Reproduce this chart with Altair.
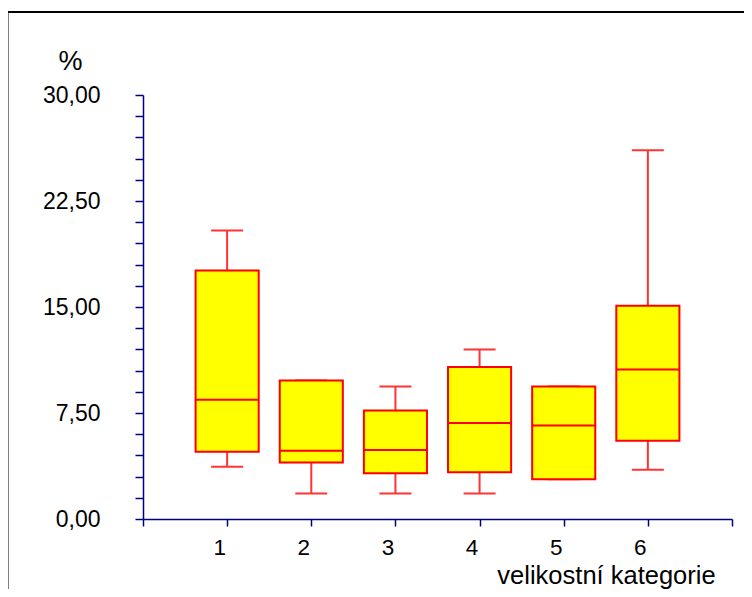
import altair as alt
import pandas as pd

# Data
categories = [1, 2, 3, 4, 5, 6]
whisker_low = [3.70, 1.81, 1.81, 1.81, 2.81, 3.49]
q1 = [4.76, 4.00, 3.23, 3.30, 2.81, 5.54]
median = [8.44, 4.83, 4.88, 6.79, 6.62, 10.58]
q3 = [17.58, 9.80, 7.68, 10.75, 9.38, 15.08]
whisker_high = [20.41, 9.80, 9.38, 11.99, 9.38, 26.09]

y_ticks = [0, 1.5, 3, 4.5, 6, 7.5, 9, 10.5, 12, 13.5, 15,
           16.5, 18, 19.5, 21, 22.5, 24, 25.5, 27, 28.5, 30]
y_labelled = [0, 7.5, 15, 22.5, 30]
x_ticks = [0, 1, 2, 3, 4, 5, 6, 7]
x_labelled = [1, 2, 3, 4, 5, 6]

df = pd.DataFrame({
    "cat": categories,
    "lo": whisker_low,
    "q1": q1,
    "med": median,
    "q3": q3,
    "hi": whisker_high,
})

FONT = "Liberation Sans"
AXIS_COLOR = "#000080"
RED = "#ff0000"
WHISKER = "#ff3333"
BOX_HALF = 0.375
CAP_HALF = 0.19

x_scale = alt.Scale(domain=[0, 7], nice=False, zero=False)
y_scale = alt.Scale(domain=[0, 30], nice=False, zero=False)

x_expr = "indexof(%s, datum.value) >= 0 ? format(datum.value, 'd') : ''" % str(x_labelled)
y_expr = ("indexof(%s, datum.value) >= 0 ? replace(format(datum.value, '.2f'), '.', ',') : ''"
          % str(y_labelled))

x_axis = alt.Axis(
    values=x_ticks,
    tickCount=len(x_ticks) + 5,
    labelExpr=x_expr,
    labelOverlap=False,
    title="velikostní kategorie",
    titleFont=FONT, titleFontSize=25.5, titleFontWeight="normal", titleColor="black",
    titleAnchor="start", titleAlign="center", titleBaseline="alphabetic",
    titleX=463, titleY=64,
    labelFont=FONT, labelFontSize=22.5, labelColor="black",
    labelBaseline="alphabetic", labelPadding=28, labelOffset=-8,
    tickSize=7, tickColor=AXIS_COLOR, tickWidth=1.5,
    domainColor=AXIS_COLOR, domainWidth=1.5, grid=False,
)

y_axis = alt.Axis(
    values=y_ticks,
    tickCount=len(y_ticks) + 5,
    labelExpr=y_expr,
    labelOverlap=False,
    title="%",
    titleFont=FONT, titleFontSize=27, titleFontWeight="normal", titleColor="black",
    titleAngle=0, titleAlign="center", titleBaseline="alphabetic",
    titleX=-73, titleY=-26,
    labelFont=FONT, labelFontSize=23, labelColor="black",
    labelAlign="right", labelBaseline="middle", labelPadding=35,
    tickSize=8, tickColor=AXIS_COLOR, tickWidth=1.5,
    domainColor=AXIS_COLOR, domainWidth=1.5, grid=False,
)

base = alt.Chart(df).transform_calculate(
    bl="datum.cat - %f" % BOX_HALF,
    br="datum.cat + %f" % BOX_HALF,
    cl="datum.cat - %f" % CAP_HALF,
    cr="datum.cat + %f" % CAP_HALF,
)

whisker = base.mark_rule(color=WHISKER, strokeWidth=2).encode(
    x=alt.X("cat:Q", scale=x_scale, axis=x_axis),
    y=alt.Y("lo:Q", scale=y_scale, axis=y_axis),
    y2="hi:Q",
)

cap_low = base.mark_rule(color=WHISKER, strokeWidth=2).encode(
    x=alt.X("cl:Q", scale=x_scale), x2="cr:Q", y=alt.Y("lo:Q", scale=y_scale)
)
cap_high = base.mark_rule(color=WHISKER, strokeWidth=2).encode(
    x=alt.X("cl:Q", scale=x_scale), x2="cr:Q", y=alt.Y("hi:Q", scale=y_scale)
)

box = base.mark_rect(fill="#ffff00", stroke=RED, strokeWidth=2).encode(
    x=alt.X("bl:Q", scale=x_scale), x2="br:Q",
    y=alt.Y("q1:Q", scale=y_scale), y2="q3:Q",
)

med = base.mark_rule(color=RED, strokeWidth=2).encode(
    x=alt.X("bl:Q", scale=x_scale), x2="br:Q", y=alt.Y("med:Q", scale=y_scale)
)

frame = alt.Chart(pd.DataFrame({"f": [0]})).mark_rect(
    fillOpacity=0, stroke="black", strokeWidth=2
).encode(
    x=alt.value(-135.5), x2=alt.value(900),
    y=alt.value(-83), y2=alt.value(900),
)

chart = alt.layer(whisker, cap_low, cap_high, box, med, frame).properties(
    width=589, height=424,
    background="white",
    autosize=alt.AutoSizeParams(type="none"),
    padding={"left": 135, "top": 87, "right": 12, "bottom": 70},
).configure_view(strokeWidth=0, stroke="transparent")

chart.save("out.html", embed_options={"renderer": "svg", "actions": False})
